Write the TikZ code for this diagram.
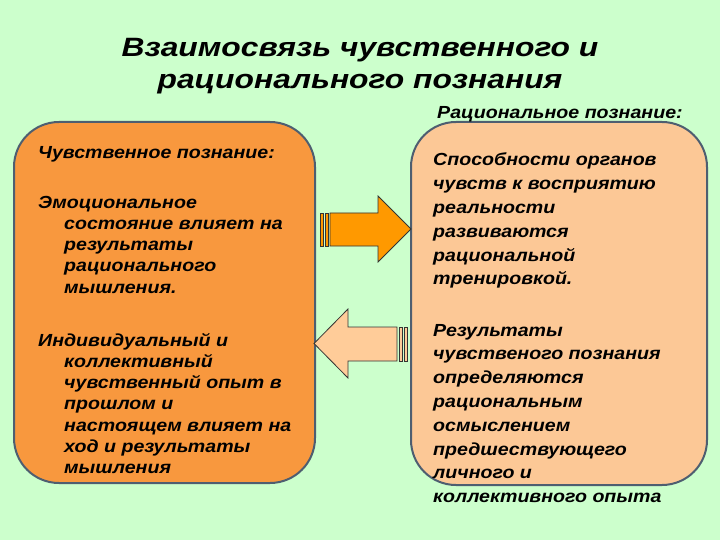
\documentclass[tikz,border=0pt]{standalone}
\usepackage{fontspec}
\setmainfont{Liberation Sans}
\newfontfamily\wideA[FakeStretch=1.12]{Liberation Sans}
\newfontfamily\wideB[FakeStretch=1.2]{Liberation Sans}
\definecolor{bg}{RGB}{204,255,204}
\definecolor{leftfill}{RGB}{248,152,62}
\definecolor{rightfill}{RGB}{252,200,150}
\definecolor{arrowA}{RGB}{255,153,0}
\definecolor{arrowB}{RGB}{255,204,153}
\definecolor{edge}{RGB}{78,94,112}
\newcommand{\linesblock}[1]{\begin{tabular}[t]{@{}l@{}}#1\end{tabular}}
\newcommand{\hang}{\hspace*{26pt}}
\tikzset{
  panel/.style={draw=edge, line width=2pt, rounded corners=45pt, inner sep=0pt},
  bodytext/.style={font=\wideA\bfseries\itshape\fontsize{17.5}{21.3}\selectfont, anchor=base west, inner sep=0pt},
  righttext/.style={font=\wideA\bfseries\itshape\fontsize{17.5}{23.8}\selectfont, anchor=base west, inner sep=0pt},
  blockarrow/.style={draw=black!80, line width=0.8pt, line join=miter},
}
\begin{document}
\begin{tikzpicture}[x=1pt,y=-1pt]
\fill[bg] (0,0) rectangle (720,540);
\useasboundingbox (0,0) rectangle (720,540);

% title
\node[font=\wideB\bfseries\itshape\fontsize{26.5}{32}\selectfont, anchor=base, inner sep=0pt] (title1) at (360,57) {Взаимосвязь чувственного и};
\node[font=\wideB\bfseries\itshape\fontsize{26.5}{32}\selectfont, anchor=base, inner sep=0pt] (title2) at (360,89) {рационального познания};

% panels
\node[panel, fill=leftfill, minimum width=301pt, minimum height=361pt] (L) at (164.5,302.5) {};
\node[panel, fill=rightfill, minimum width=296pt, minimum height=363pt] (R) at (559,303.5) {};

% right-pointing arrow
\draw[blockarrow, fill=arrowA] (330,213) -- (378,213) -- (378,196) -- (411,229) -- (378,262) -- (378,246) -- (330,246) -- cycle;
\draw[blockarrow, fill=arrowA] (320,213) rectangle (323,246);
\draw[blockarrow, fill=arrowA] (325,213) rectangle (328,246);

% left-pointing arrow
\draw[blockarrow, fill=arrowB] (397,327) -- (348,327) -- (348,309) -- (314,343.5) -- (348,378) -- (348,361) -- (397,361) -- cycle;
\draw[blockarrow, fill=arrowB] (399,327) rectangle (402,361);
\draw[blockarrow, fill=arrowB] (404,327) rectangle (407,361);

% left texts
\node[bodytext] (lhead) at (38,159) {Чувственное познание:};
\node[bodytext] (lp1) at (38,208) {\linesblock{Эмоциональное\\
\hang состояние влияет на\\
\hang результаты\\
\hang рационального\\
\hang мышления.}};
\node[bodytext] (lp2) at (38,346) {\linesblock{Индивидуальный и\\
\hang коллективный\\
\hang чувственный опыт в\\
\hang прошлом и\\
\hang настоящем влияет на\\
\hang ход и результаты\\
\hang мышления}};

% right texts
\node[bodytext] (rhead) at (437,119) {Рациональное познание:};
\node[righttext] (rp1) at (433,166) {\linesblock{Способности органов\\чувств к восприятию\\реальности\\развиваются\\рациональной\\тренировкой.}};
\node[righttext] (rp2) at (433,336) {\linesblock{Результаты\\чувственого познания\\определяются\\рациональным\\осмыслением\\предшествующего\\личного и\\коллективного опыта}};
\end{tikzpicture}
\end{document}
